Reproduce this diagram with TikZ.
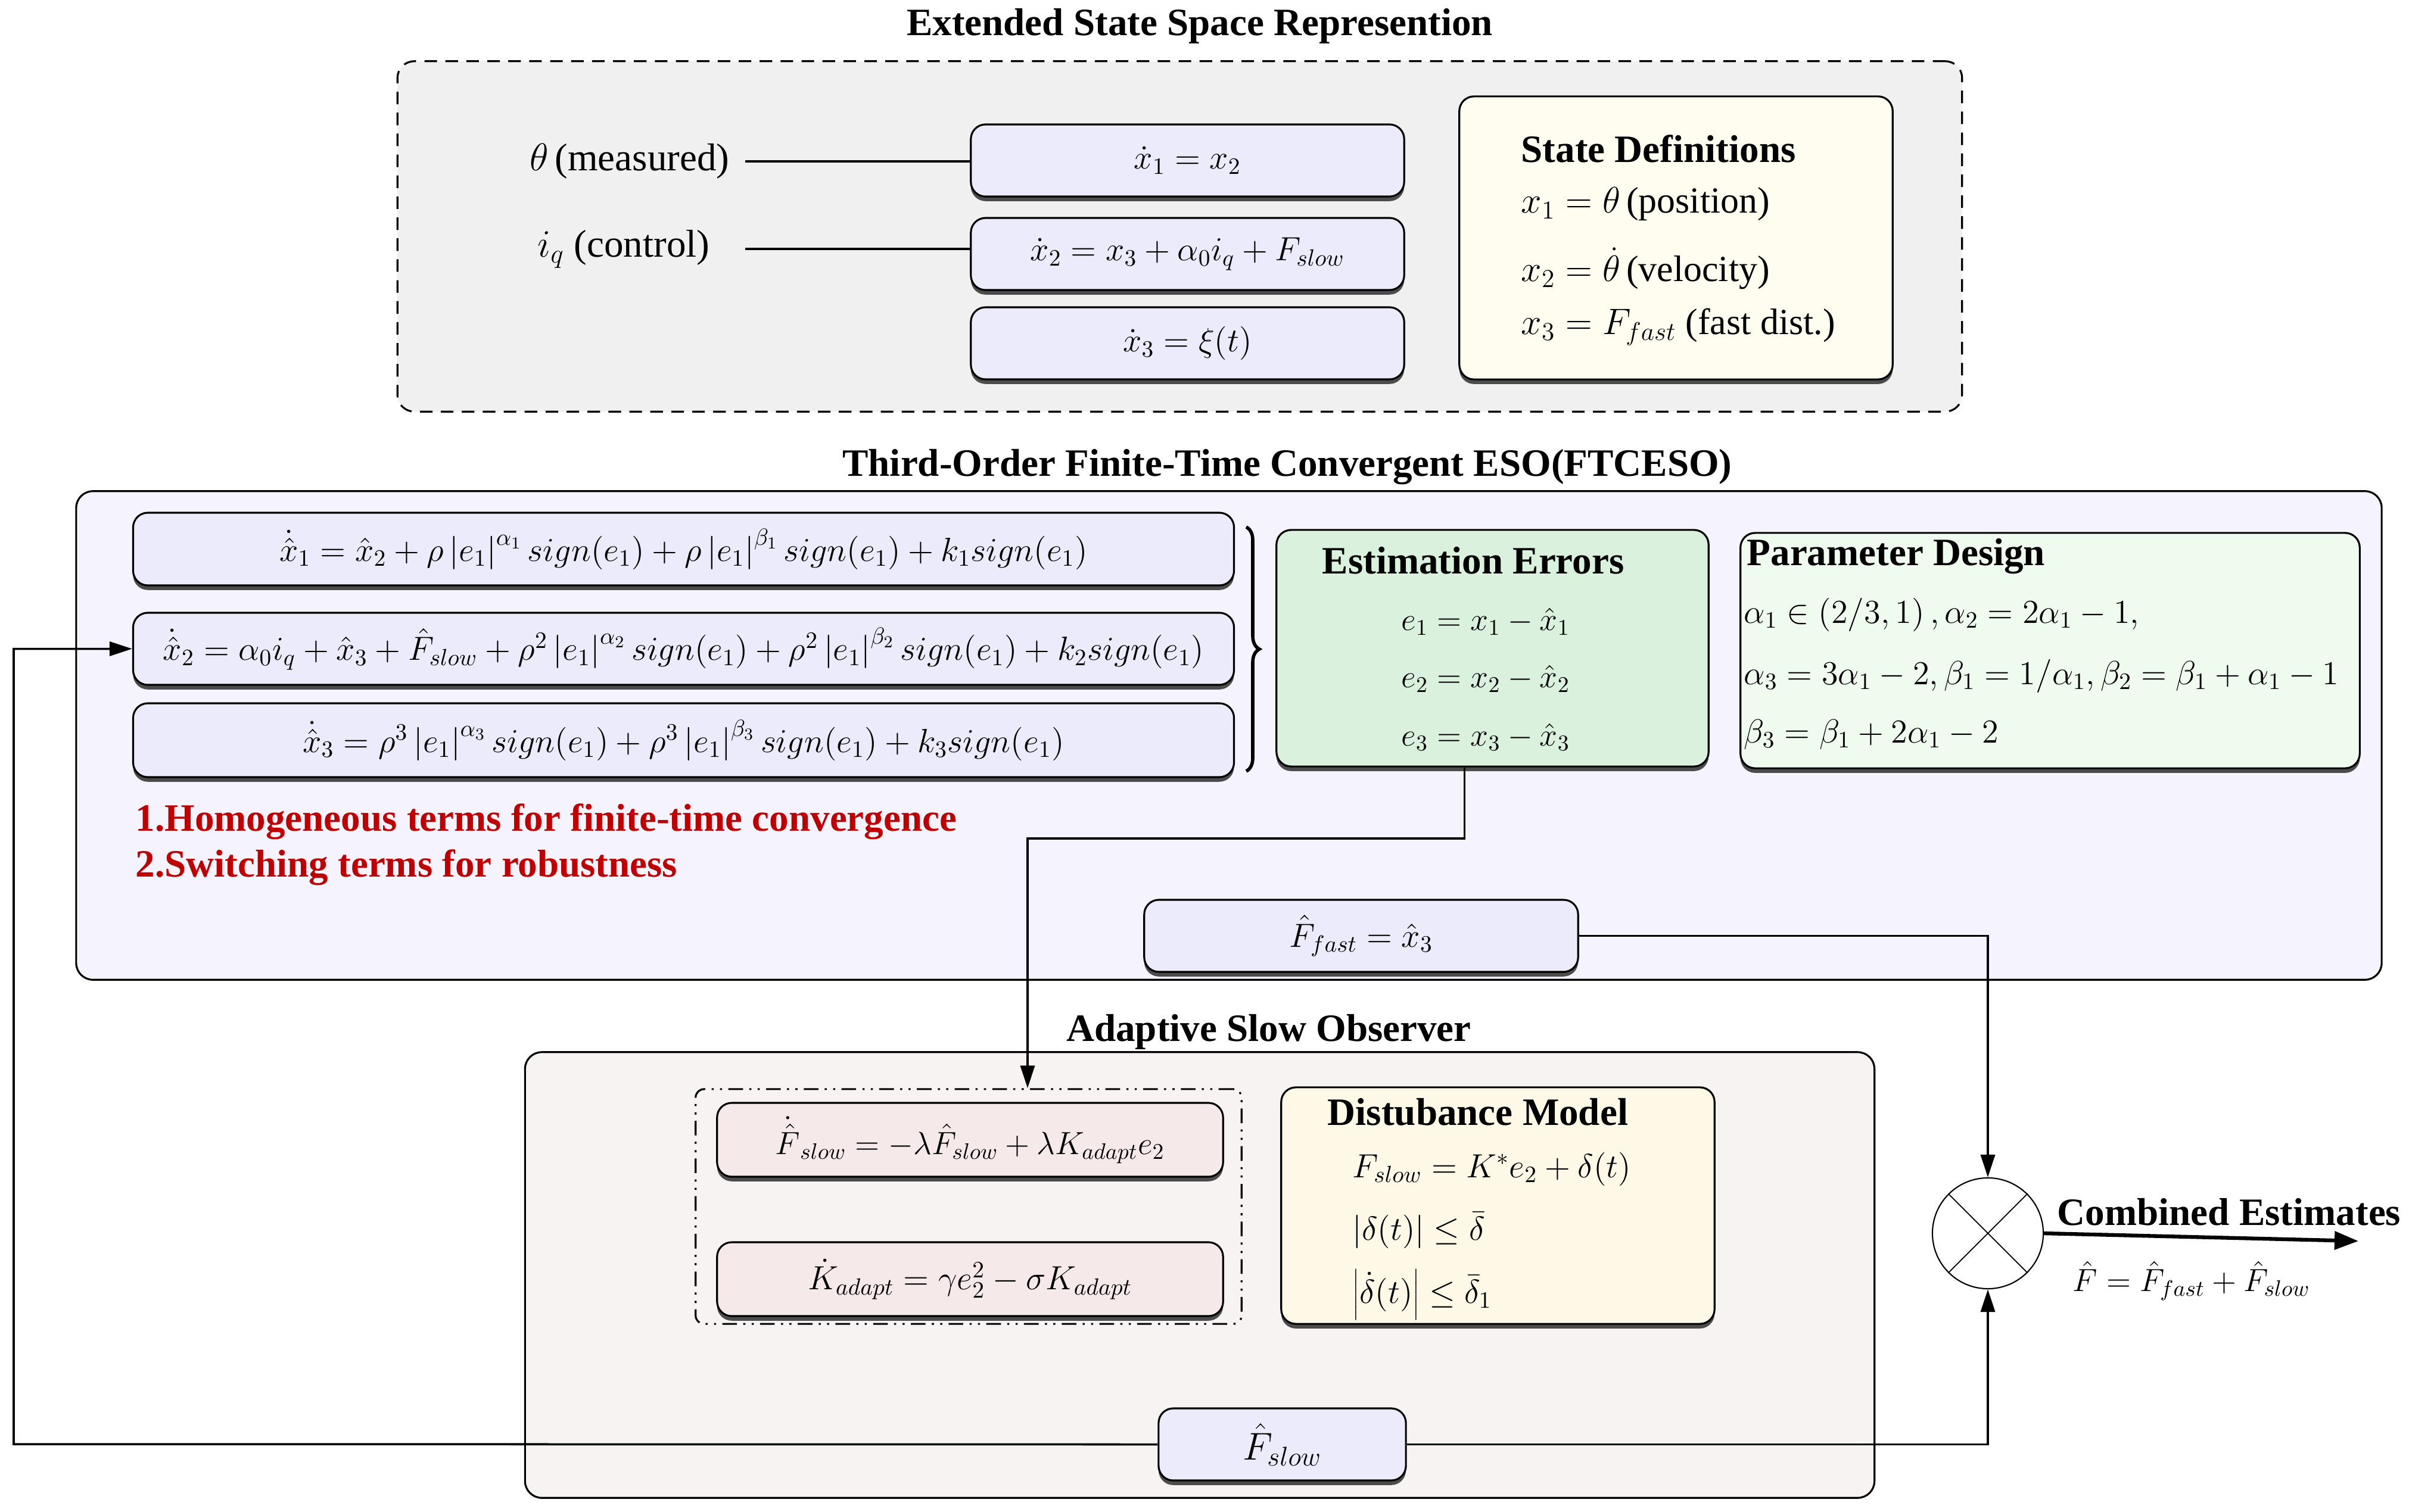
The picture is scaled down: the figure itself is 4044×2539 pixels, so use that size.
\RequirePackage{fix-cm}
\documentclass[tikz,border=0pt]{standalone}
\usepackage[no-math]{fontspec}
\setmainfont{Liberation Serif}
\usetikzlibrary{arrows.meta,shadows,decorations.pathreplacing,calc}
\definecolor{grayfill}{HTML}{F0F0F0}
\definecolor{lav}{HTML}{EBEBFB}
\definecolor{ivory}{HTML}{FEFDF0}
\definecolor{esofill}{HTML}{F5F4FE}
\definecolor{errfill}{HTML}{D9F1DD}
\definecolor{parfill}{HTML}{F0FBF0}
\definecolor{adfill}{HTML}{F8F3F3}
\definecolor{pinkbox}{HTML}{F5E9E9}
\definecolor{dmfill}{HTML}{FEF8E7}
\definecolor{darkred}{HTML}{C00000}
\begin{document}
\begin{tikzpicture}[x=0.01cm,y=-0.01cm,
  every node/.style={font=\fontsize{18.5}{22}\selectfont, inner sep=0pt},
  mf/.style={font=\fontsize{16}{19}\selectfont},
  mfs/.style={font=\fontsize{15.3}{18}\selectfont},
  mfl/.style={font=\fontsize{17.6}{21}\selectfont},
  shad/.style={drop shadow={shadow xshift=0pt,shadow yshift=-2.2pt,fill=black!70,opacity=1}},
  box/.style={draw, line width=0.9pt, rounded corners=7pt, shad},
  container/.style={draw, line width=0.9pt, rounded corners=8pt},
  ttl/.style={font=\fontsize{18.5}{22}\selectfont\bfseries},
  conn/.style={line width=1pt},
  arr/.style={line width=1pt, -{Triangle[length=0.38cm,width=0.24cm]}},
  bigarr/.style={line width=1.8pt, -{Triangle[length=0.4cm,width=0.3cm]}},
  redtxt/.style={font=\fontsize{18.5}{22}\selectfont\bfseries, text=darkred}
]
\useasboundingbox (0,0) rectangle (4044,2539);

% ---------- containers ----------
\node[container, dashed, dash pattern=on 6pt off 4pt, fill=grayfill, minimum width=26.25cm, minimum height=5.88cm] (ext) at (1980.5,397) {};
\node[container, fill=esofill, minimum width=38.68cm, minimum height=8.20cm] (eso) at (2063,1235) {};
\node[container, fill=adfill, minimum width=22.64cm, minimum height=7.48cm] (ado) at (2014,2141) {};

% ---------- titles ----------
\node[ttl] (t1) at (2014,44) {Extended State Space Represention};
\node[ttl] (t2) at (2161,784) {Third-Order Finite-Time Convergent ESO(FTCESO)};
\node[ttl] (t3) at (2130,1733) {Adaptive Slow Observer};

% ---------- extended state space ----------
\node[anchor=east] (meas) at (1225,271) {$\theta\,$(measured)};
\node[anchor=east] (ctrl) at (1192,418) {$i_q$ (control)};
\node[box, mf, fill=lav, minimum width=7.27cm, minimum height=1.21cm] (sx1) at (1993.5,269.5) {$\dot{x}_1 = x_2$};
\node[box, mf, fill=lav, minimum width=7.27cm, minimum height=1.21cm] (sx2) at (1993.5,426.5) {$\dot{x}_2 = x_3 + \alpha_0 i_q + F_{slow}$};
\node[box, mf, fill=lav, minimum width=7.27cm, minimum height=1.21cm] (sx3) at (1993.5,576.5) {$\dot{x}_3 = \xi(t)$};
\node[box, fill=ivory, minimum width=7.27cm, minimum height=4.75cm] (sdef) at (2813.5,399.5) {};
\node[ttl, anchor=west] (sdt) at (2553,250) {State Definitions};
\node[anchor=west, mfl] (sd1) at (2553,343) {$x_1 = \theta\,$(position)};
\node[anchor=west, mfl] (sd2) at (2553,451) {$x_2 = \dot{\theta}\,$(velocity)};
\node[anchor=west, mfl] (sd3) at (2553,549) {$x_3 = F_{fast}$ (fast dist.)};
\coordinate (ls) at (1251,0);
\draw[conn] (ls |- meas) -- (sx1.west |- meas);
\draw[conn] (ls |- ctrl) -- (sx2.west |- ctrl);

% ---------- ESO ----------
\node[box, mf, fill=lav, minimum width=18.47cm, minimum height=1.22cm] (eq1) at (1147.5,922)
 {$\dot{\hat{x}}_1 = \hat{x}_2 + \rho\left|e_1\right|^{\alpha_1} sign(e_1) + \rho\left|e_1\right|^{\beta_1} sign(e_1) + k_1 sign(e_1)$};
\node[box, mf, fill=lav, minimum width=18.47cm, minimum height=1.21cm] (eq2) at (1147.5,1089.5)
 {$\dot{\hat{x}}_2 = \alpha_0 i_q + \hat{x}_3 + \hat{F}_{slow} + \rho^2\left|e_1\right|^{\alpha_2} sign(e_1) + \rho^2\left|e_1\right|^{\beta_2} sign(e_1) + k_2 sign(e_1)$};
\node[box, mf, fill=lav, minimum width=18.47cm, minimum height=1.24cm] (eq3) at (1147.5,1243)
 {$\dot{\hat{x}}_3 = \rho^3\left|e_1\right|^{\alpha_3} sign(e_1) + \rho^3\left|e_1\right|^{\beta_3} sign(e_1) + k_3 sign(e_1)$};
\draw[line width=1.6pt, decorate, decoration={brace, amplitude=0.22cm}] (2092,885) -- (2092,1295);

\node[box, fill=errfill, minimum width=7.25cm, minimum height=3.97cm] (err) at (2505.5,1088.5) {};
\node[ttl] (errt) at (2473,941) {Estimation Errors};
\node[anchor=west, mfs] (e1) at (2352,1044) {$e_1 = x_1 - \hat{x}_1$};
\node[anchor=west, mfs] (e2) at (2352,1140) {$e_2 = x_2 - \hat{x}_2$};
\node[anchor=west, mfs] (e3) at (2352,1238) {$e_3 = x_3 - \hat{x}_3$};

\node[box, fill=parfill, minimum width=10.39cm, minimum height=3.95cm] (par) at (3441.5,1092.5) {};
\node[ttl, anchor=west] (part) at (2932,934) {Parameter Design};
\node[anchor=west, mf] (p1) at (2927,1032) {$\alpha_1 \in \left(2/3,1\right), \alpha_2 = 2\alpha_1 - 1,$};
\node[anchor=west, mf] (p2) at (2927,1135) {$\alpha_3 = 3\alpha_1 - 2, \beta_1 = 1/\alpha_1, \beta_2 = \beta_1 + \alpha_1 - 1$};
\node[anchor=west, mf] (p3) at (2927,1233) {$\beta_3 = \beta_1 + 2\alpha_1 - 2$};

\node[redtxt, anchor=west] (r1) at (227,1380) {1.Homogeneous terms for finite-time convergence};
\node[redtxt, anchor=west] (r2) at (227,1457) {2.Switching terms for robustness};

\node[box, mf, fill=lav, minimum width=7.28cm, minimum height=1.21cm] (ffast) at (2285,1571.5) {$\hat{F}_{fast} = \hat{x}_3$};

% ---------- adaptive slow observer ----------
\node[draw, line width=0.9pt, dash pattern=on 7pt off 3pt on 1pt off 3pt on 1pt off 3pt, rounded corners=4pt, minimum width=9.16cm, minimum height=3.94cm] (dd) at (1626,2026) {};
\node[box, mfs, fill=pinkbox, minimum width=8.49cm, minimum height=1.24cm] (fs1) at (1628.5,1914)
 {$\dot{\hat{F}}_{slow} = -\lambda\hat{F}_{slow} + \lambda K_{adapt} e_2$};
\node[box, mf, fill=pinkbox, minimum width=8.49cm, minimum height=1.24cm] (ka) at (1628.5,2148)
 {$\dot{K}_{adapt} = \gamma e_2^2 - \sigma K_{adapt}$};
\node[box, fill=dmfill, minimum width=7.27cm, minimum height=3.97cm] (dm) at (2514.5,2024.5) {};
\node[ttl] (dmt) at (2481,1867) {Distubance Model};
\node[anchor=west, mf] (d1) at (2270,1963) {$F_{slow} = K^{*} e_2 + \delta(t)$};
\node[anchor=west, mf] (d2) at (2270,2066) {$\left|\delta(t)\right| \leq \bar{\delta}$};
\node[anchor=west, mf] (d3) at (2270,2174) {$\left|\dot{\delta}(t)\right| \leq \bar{\delta}_1$};

\node[box, fill=lav, minimum width=4.15cm, minimum height=1.21cm] (fslow) at (2152.5,2425.5) {$\hat{F}_{slow}$};

% ---------- sum ----------
\node[draw, circle, line width=0.6pt, fill=white, minimum size=1.86cm] (sum) at (3337,2071) {};
\draw[line width=0.5pt] (sum.45) -- (sum.225) (sum.135) -- (sum.315);
\node[ttl, anchor=west] (comb) at (3453,2035) {Combined Estimates};
\node[anchor=west, mfs] (fsum) at (3479,2151) {$\hat{F} = \hat{F}_{fast} + \hat{F}_{slow}$};

% ---------- connectors ----------
\coordinate (c1) at (1725,1408);
\draw[arr] ([xshift=-0.47cm]err.south) |- (c1) -- (c1 |- dd.north);
\draw[arr] (ffast.east) -| (sum.north);
\draw[arr] (fslow.east) -| (sum.south);
\coordinate (fb) at (23,2425);
\draw[arr] (fslow.west) -- (fb) |- (eq2.west);
\coordinate (out) at (3959,2084);
\draw[bigarr] (sum.east) -- (out);
\end{tikzpicture}
\end{document}
